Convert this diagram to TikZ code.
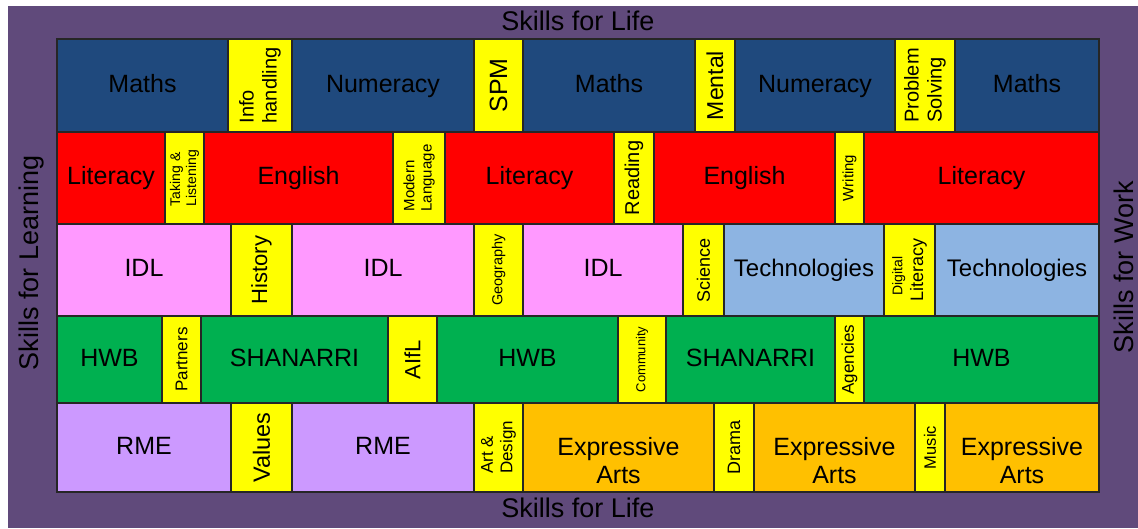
\documentclass[tikz,border=0pt]{standalone}
\usepackage{fontspec}
\setmainfont{Liberation Sans}
\usetikzlibrary{positioning}

\definecolor{bgpurple}{RGB}{96,74,123}
\definecolor{mathblue}{RGB}{31,73,125}
\definecolor{litred}{RGB}{255,0,0}
\definecolor{idlpink}{RGB}{255,153,255}
\definecolor{techblue}{RGB}{141,180,226}
\definecolor{hwbgreen}{RGB}{0,176,80}
\definecolor{rmelilac}{RGB}{204,153,255}
\definecolor{artorange}{RGB}{255,192,0}
\definecolor{tagyellow}{RGB}{255,255,0}

\newcommand\fsz[1]{\fontsize{#1}{#1}\selectfont\baselineskip=1.15\baselineskip}

\begin{document}
\begin{tikzpicture}[
            x=1pt, y=-1pt,
            cell/.style = {draw=black!85, line width=1.5pt,
                           inner sep=0pt, outer sep=0pt},
            main/.style = {cell, minimum width=\cw pt, minimum height=\ch pt,
                           text height=18pt, text depth=5pt},
             tag/.style = {cell, fill=tagyellow, rotate=90, align=left,% turned cells
                           minimum width=\ch pt, minimum height=\cw pt},
             mth/.style = {main, fill=mathblue},
             lit/.style = {main, fill=litred},
             idl/.style = {main, fill=idlpink},
             tec/.style = {main, fill=techblue},
             hwb/.style = {main, fill=hwbgreen},
             rme/.style = {main, fill=rmelilac},
             art/.style = {main, fill=artorange},
            side/.style = {font=\fsz{27}, inner sep=0pt},
                ]
\useasboundingbox (0,0) rectangle (1138,528);
\fill[white] (0,0) rectangle (1138,528);
\fill[bgpurple] (8,6) rectangle (1138,528);

% row 1: numeracy
\def\ch{93}
\foreach \xa/\xb/\kind/\fs/\txt [count=\i] in {57/228/mth/25/Maths,
            228/292/tag/20/Info\\handling, 292/474/mth/25/Numeracy,
            474/523/tag/25/SPM, 523/695/mth/25/Maths, 695/735/tag/23/Mental,
            735/895/mth/25/Numeracy, 895/955/tag/20/Problem\\Solving,
            955/1099/mth/25/Maths}
{
    \pgfmathsetmacro\cw{\xb-\xa}
    \node[\kind, font=\fsz{\fs}] (r1c\i) at ({(\xa+\xb)/2},85.5) {\txt};
}

% row 2: literacy
\def\ch{92}
\foreach \xa/\xb/\kind/\fs/\txt [count=\i] in {57/165/lit/25/Literacy,
            165/204/tag/14/Taking \&\\Listening, 204/393/lit/25/English,
            393/445/tag/15/Modern\\Language, 445/614/lit/25/Literacy,
            614/654/tag/20/Reading, 654/835/lit/25/English,
            835/864/tag/15/Writing, 864/1099/lit/25/Literacy}
{
    \pgfmathsetmacro\cw{\xb-\xa}
    \node[\kind, font=\fsz{\fs}] (r2c\i) at ({(\xa+\xb)/2},178) {\txt};
}

% row 3: IDL and technologies
\def\ch{92}
\foreach \xa/\xb/\kind/\fs/\txt [count=\i] in {57/231/idl/25/IDL,
            231/292/tag/22/History, 292/474/idl/25/IDL,
            474/523/tag/14.5/Geography, 523/683/idl/25/IDL,
            683/724/tag/18/Science, 724/884/tec/24/Technologies,
            884/935/tag/18/\hspace*{6pt}{\fsz{14}Digital}\\Literacy,
            935/1099/tec/24/Technologies}
{
    \pgfmathsetmacro\cw{\xb-\xa}
    \node[\kind, font=\fsz{\fs}] (r3c\i) at ({(\xa+\xb)/2},270) {\txt};
}

% row 4: health and wellbeing
\def\ch{87}
\foreach \xa/\xb/\kind/\fs/\txt [count=\i] in {57/162/hwb/25/HWB,
            162/201/tag/17/Partners, 201/388/hwb/25/SHANARRI,
            388/437/tag/22/AIfL, 437/618/hwb/25/HWB,
            618/666/tag/13/Community, 666/835/hwb/25/SHANARRI,
            835/864/tag/17/Agencies, 864/1099/hwb/25/HWB}
{
    \pgfmathsetmacro\cw{\xb-\xa}
    \node[\kind, font=\fsz{\fs}] (r4c\i) at ({(\xa+\xb)/2},359.5) {\txt};
}

% row 5: RME and expressive arts
\def\ch{89}
\foreach \xa/\xb/\kind/\fs/\txt [count=\i] in {57/231/rme/25/RME,
            231/292/tag/23.5/Values, 292/474/rme/25/RME,
            474/523/tag/17/Art \&\\Design, 523/714/art/25/{},
            714/754/tag/18/Drama, 754/915/art/25/{},
            915/945/tag/16.5/Music, 945/1099/art/25/{}}
{
    \pgfmathsetmacro\cw{\xb-\xa}
    \node[\kind, font=\fsz{\fs}] (r5c\i) at ({(\xa+\xb)/2},447.5) {\txt};
}
\foreach \c in {5,7,9}
    \node[font=\fsz{25}, align=center] at ([yshift=-13pt]r5c\c.center) {Expressive\\Arts};

% skills round the grid
\node[side] (lifetop)    at (578,21)   {Skills for Life};
\node[side] (lifebottom) at (578,508)  {Skills for Life};
\node[side, rotate=90] (learning) at (31.5,263) {Skills for Learning};
\node[side, rotate=90] (work)     at (1124,267) {Skills for Work};
\end{tikzpicture}
\end{document}
